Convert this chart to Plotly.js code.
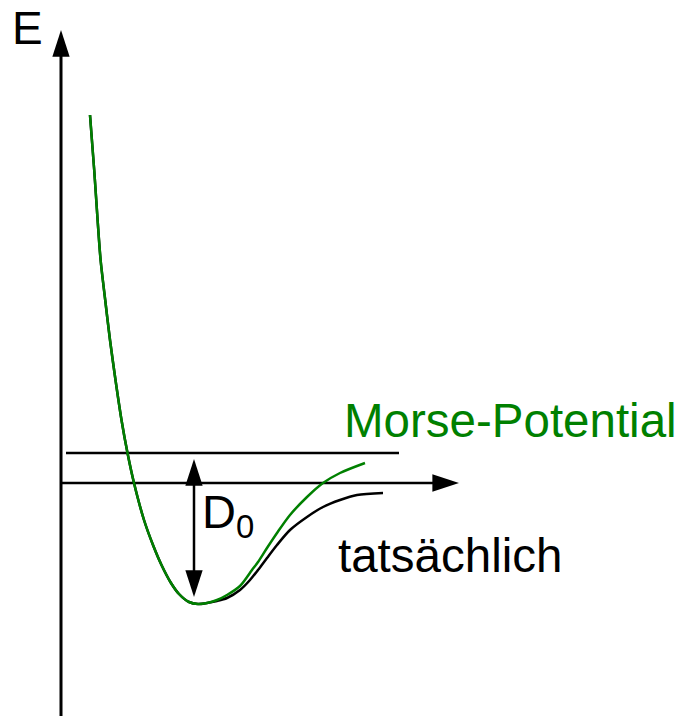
<!DOCTYPE html>
<html>
<head>
<meta charset="utf-8">
<script src="https://cdn.plot.ly/plotly-3.0.1.min.js"></script>
<style>
  html, body { margin: 0; padding: 0; background: #fff; }
  #chart { width: 683px; height: 716px; }
</style>
</head>
<body>
<div id="chart"></div>
<script>
// Morse potential vs. real potential, sketched in arbitrary units
// r = distance (0 at the E axis), E = energy (0 at the r axis)

// green curve (Morse-Potential)
const morseR = [29, 33.2, 36.6, 39.6, 44.2, 49, 54.5, 60.5, 66.5, 73, 83, 92, 100.5, 110, 118, 128, 137,
                146, 156, 166, 179, 191, 197, 206, 216, 229, 246, 262, 279, 304];
const morseE = [368, 313, 263, 223, 183, 143, 103, 63, 30, 0, -37, -62, -82, -100, -111, -119, -121,
                -120, -117, -112, -103, -87, -79, -65, -50, -32, -14, 0, 10, 20];

// black curve (tatsächlich), shares the repulsive wall with the Morse curve
const realR = [29, 33.2, 36.6, 39.6, 44.2, 49, 54.5, 60.5, 66.5, 73, 83, 92, 100.5, 110, 118, 128, 137,
               146, 156, 166, 179, 189, 197, 206, 216, 229, 246, 262, 279, 296, 322];
const realE = [368, 313, 263, 223, 183, 143, 103, 63, 30, 0, -37, -62, -82, -100, -111, -119, -121,
               -120, -118, -115, -107, -97, -87, -75, -62, -47, -34, -24, -17, -12, -10];

// axes, dissociation level and D0 arrow
const eAxisE = [-240, 453];
const rAxisR = [0, 398];
const levelR = [5, 338];
const levelE = 30;
const d0R = 133;
const d0E = [-114, 24];

const FONT = 'Liberation Sans, Arial, sans-serif';
const GREEN = '#008000';

function arrowLine(x, y, width) {
    return {
        x: x, y: y,
        type: 'scatter',
        mode: 'lines+markers',
        line: { color: '#000', width: width },
        marker: {
            symbol: 'arrow', angleref: 'previous', size: [0, 28],
            color: '#000', opacity: 1, line: { width: 0 }
        },
        hoverinfo: 'skip',
        showlegend: false
    };
}

const d0Mid = (d0E[0] + d0E[1]) / 2;

const traces = [
    arrowLine([0, 0], eAxisE, 3),
    arrowLine(rAxisR, [0, 0], 2.5),
    {
        x: levelR, y: [levelE, levelE],
        type: 'scatter', mode: 'lines',
        line: { color: '#000', width: 2.5 },
        hoverinfo: 'skip', showlegend: false
    },
    arrowLine([d0R, d0R], [d0Mid, d0E[1]], 2.5),
    arrowLine([d0R, d0R], [d0Mid, d0E[0]], 2.5),
    {
        x: realR, y: realE,
        type: 'scatter', mode: 'lines',
        line: { color: '#000', width: 2.5, shape: 'spline', smoothing: 0.8 },
        hoverinfo: 'skip', showlegend: false
    },
    {
        x: morseR, y: morseE,
        type: 'scatter', mode: 'lines',
        line: { color: GREEN, width: 2.5, shape: 'spline', smoothing: 0.8 },
        hoverinfo: 'skip', showlegend: false
    }
];

const layout = {
    width: 683,
    height: 716,
    margin: { t: 0, b: 0, l: 0, r: 0 },
    paper_bgcolor: '#fff',
    plot_bgcolor: '#fff',
    showlegend: false,
    xaxis: { range: [-61, 622], visible: false, fixedrange: true },
    yaxis: { range: [-233, 483], visible: false, fixedrange: true },
    annotations: [
        { x: -34, y: 455, text: 'E', showarrow: false, xanchor: 'center', yanchor: 'middle',
          font: { family: FONT, size: 46, color: '#000' } },
        { x: 281, y: 63, text: 'Morse-Potential', showarrow: false, xanchor: 'left', yanchor: 'middle',
          font: { family: FONT, size: 47.5, color: GREEN } },
        { x: 275, y: -72, text: 'tatsächlich', showarrow: false, xanchor: 'left', yanchor: 'middle',
          font: { family: FONT, size: 47.5, color: '#000' } },
        { x: 139, y: -32, text: 'D<sub>0</sub>', showarrow: false, xanchor: 'left', yanchor: 'middle',
          font: { family: FONT, size: 47, color: '#000' } }
    ]
};

Plotly.newPlot('chart', traces, layout, { displayModeBar: false, staticPlot: true });
</script>
</body>
</html>
